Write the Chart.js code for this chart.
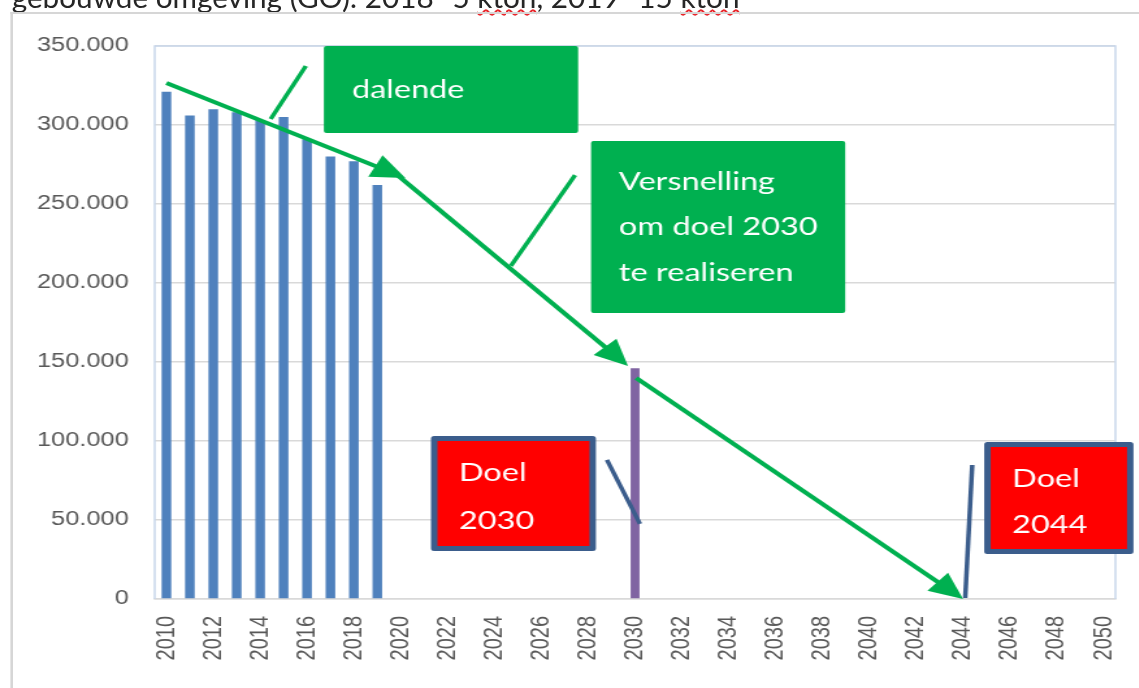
<!DOCTYPE html>
<html>
<head>
<meta charset="utf-8">
<title>CO2 gebouwde omgeving</title>
<script src="https://cdn.jsdelivr.net/npm/chart.js@4.4.1/dist/chart.umd.min.js"></script>
<style>
  html, body { margin: 0; padding: 0; background: #fff; overflow: hidden; }
  /* the original screenshot is stretched sideways, so the whole stage is too */
  #stage { position: absolute; left: 0; top: 0; width: 876px; height: 688px; transform-origin: 0 0; transform: scaleX(1.3); }
  #intro { position: absolute; left: 9px; top: -20px; white-space: nowrap; font-family: Lato, sans-serif; font-size: 28px; color: #262626; transform-origin: 0 0; }
  .sq { text-decoration: underline wavy #e8262b; text-decoration-thickness: 1.5px; text-underline-offset: 1px; }
  #frame { position: absolute; left: 8px; top: 12px; width: 900px; height: 700px; border-top: 2px solid #d6d6d6; border-left: 2px solid #d6d6d6; }
  #box { position: absolute; left: 0; top: 0; width: 876px; height: 688px; }
</style>
</head>
<body>
<div id="stage">
  <div id="intro">gebouwde omgeving (GO): 2018 -5 <span class="sq">kton</span>, 2019 -15 <span class="sq">kton</span></div>
  <div id="frame"></div>
  <div id="box"><canvas id="chart"></canvas></div>
</div>
<script>
// categories on the x axis
const years = ["2010", "2011", "2012", "2013", "2014", "2015", "2016", "2017", "2018", "2019",
  "2020", "2021", "2022", "2023", "2024", "2025", "2026", "2027", "2028", "2029",
  "2030", "2031", "2032", "2033", "2034", "2035", "2036", "2037", "2038", "2039",
  "2040", "2041", "2042", "2043", "2044", "2045", "2046", "2047", "2048", "2049", "2050"];

// measured emissions (ton)
const emissionYears = ["2010", "2011", "2012", "2013", "2014", "2015", "2016", "2017", "2018", "2019"];
const emissionValues = [321000, 306000, 310000, 308000, 303000, 305000, 291000, 280000, 277000, 262000];

// target for 2030
const goalYears = ["2030"];
const goalValues = [146000];

// y tick values
const yTicks = [0, 50000, 100000, 150000, 200000, 250000, 300000, 350000];

// the green trend arrows (year, value)
const trendFromYear = [2010, 2019.6, 2030.05];
const trendFromValue = [326600, 271500, 139900];
const trendToYear = [2020.2, 2029.7, 2044];
const trendToValue = [266500, 147500, 0];

const GREEN = "#00B050";
const NAVY = "#3B5D8C";

// text boxes, placed in chart units
const notes = [
  { x0: 2016.72, x1: 2027.57, y0: 350000, y1: 294900, fill: GREEN, lines: ["dalende"], gap: 45, shift: 0 },
  { x0: 2028.12, x1: 2038.97, y0: 289900, y1: 181000, fill: GREEN, lines: ["Versnelling", "om doel 2030", "te realiseren"], gap: 45.5, shift: 0 },
  { x0: 2021.29, x1: 2028.33, y0: 103200, y1: 30400, fill: "#FF0000", border: NAVY, lines: ["Doel", "2030"], gap: 48, shift: 3 },
  { x0: 2044.9, x1: 2051.27, y0: 99400, y1: 28500, fill: "#FF0000", border: NAVY, lines: ["Doel", "2044"], gap: 46, shift: 4 },
];

// little connector strokes from the boxes
const callouts = [
  { from: [2015.95, 337300], to: [2014.45, 303800], color: GREEN },
  { from: [2027.44, 268300], to: [2024.7, 210800], color: GREEN },
  { from: [2028.8, 88000], to: [2030.21, 47500], color: NAVY },
  { from: [2044.39, 84800], to: [2044.09, 600], color: NAVY },
];

const fmt = (v) => String(v).replace(/\B(?=(\d{3})+(?!\d))/g, ".");

function drawArrow(ctx, x1, y1, x2, y2, color) {
  const a = Math.atan2(y2 - y1, x2 - x1);
  const len = 26, half = 12;
  const bx = x2 - len * Math.cos(a);
  const by = y2 - len * Math.sin(a);
  ctx.strokeStyle = color;
  ctx.lineWidth = 4;
  ctx.beginPath();
  ctx.moveTo(x1, y1);
  ctx.lineTo(bx + 2 * Math.cos(a), by + 2 * Math.sin(a));
  ctx.stroke();
  ctx.fillStyle = color;
  ctx.beginPath();
  ctx.moveTo(x2, y2);
  ctx.lineTo(bx + half * Math.sin(a), by - half * Math.cos(a));
  ctx.lineTo(bx - half * Math.sin(a), by + half * Math.cos(a));
  ctx.closePath();
  ctx.fill();
}

const overlay = {
  id: "overlay",
  beforeDatasetsDraw(chart) {
    const { ctx, chartArea: a } = chart;
    ctx.save();
    ctx.strokeStyle = "#C9D7EC";
    ctx.lineWidth = 1.5;
    ctx.beginPath();
    ctx.moveTo(a.left, a.bottom);
    ctx.lineTo(a.left, a.top);
    ctx.lineTo(a.right, a.top);
    ctx.lineTo(a.right, a.bottom);
    ctx.stroke();
    ctx.restore();
  },
  afterDatasetsDraw(chart) {
    const { ctx } = chart;
    const xs = chart.scales.x, ys = chart.scales.y;
    const px = (yr) => xs.getPixelForValue(yr - 2010);
    const py = (v) => ys.getPixelForValue(v);
    ctx.save();
    ctx.lineCap = "butt";

    trendFromYear.forEach((yr, i) => {
      drawArrow(ctx, px(yr), py(trendFromValue[i]), px(trendToYear[i]), py(trendToValue[i]), GREEN);
    });

    ctx.lineWidth = 3.5;
    callouts.forEach((c) => {
      ctx.strokeStyle = c.color;
      ctx.beginPath();
      ctx.moveTo(px(c.from[0]), py(c.from[1]));
      ctx.lineTo(px(c.to[0]), py(c.to[1]));
      ctx.stroke();
    });

    notes.forEach((n) => {
      const l = px(n.x0), r = px(n.x1), t = py(n.y0), b = py(n.y1);
      if (n.border) {
        // outline box: fill inside, then a thick frame on top
        ctx.fillStyle = n.fill;
        ctx.fillRect(l + 2, t + 2, r - l - 4, b - t - 4);
        ctx.strokeStyle = n.border;
        ctx.lineWidth = 5;
        ctx.lineJoin = "round";
        ctx.strokeRect(l + 2.5, t + 2.5, r - l - 5, b - t - 5);
      } else {
        ctx.fillStyle = n.fill;
        ctx.beginPath();
        ctx.roundRect(l, t, r - l, b - t, 2);
        ctx.fill();
      }
      ctx.fillStyle = "#fff";
      ctx.font = "25px Lato";
      ctx.textBaseline = "middle";
      ctx.textAlign = "left";
      const mid = (t + b) / 2 + n.shift;
      n.lines.forEach((txt, k) => {
        const y = mid + (k - (n.lines.length - 1) / 2) * n.gap;
        ctx.fillText(txt, l + 21.5, y);
      });
    });
    ctx.restore();
  },
};

new Chart(document.getElementById("chart"), {
  type: "bar",
  data: {
    labels: years,
    datasets: [
      {
        label: "Emissie",
        data: emissionYears.map((y, i) => ({ x: y, y: emissionValues[i] })),
        backgroundColor: "#4F81BD",
        grouped: false,
        barPercentage: 0.41,
        categoryPercentage: 1,
      },
      {
        label: "Doel 2030",
        data: goalYears.map((y, i) => ({ x: y, y: goalValues[i] })),
        backgroundColor: "#8064A2",
        grouped: false,
        barPercentage: 0.38,
        categoryPercentage: 1,
      },
    ],
  },
  options: {
    responsive: true,
    maintainAspectRatio: false,
    animation: false,
    layout: { padding: { top: 46, right: 18, left: 0, bottom: 0 } },
    plugins: {
      legend: { display: false },
      tooltip: { enabled: false },
    },
    scales: {
      x: {
        offset: true,
        grid: { display: false, drawTicks: false },
        border: { color: "#D9D9D9", width: 1.5 },
        ticks: {
          autoSkip: false,
          minRotation: 90,
          maxRotation: 90,
          padding: 17,
          color: "#595959",
          font: { family: "Liberation Sans", size: 20 },
          callback: (v, i) => (i % 2 === 0 ? years[i] : ""),
        },
        afterFit: (s) => {
          s.height = 89;
          s.paddingLeft = 0;
          s.paddingRight = 0;
        },
      },
      y: {
        min: 0,
        max: 350000,
        afterBuildTicks: (s) => { s.ticks = yTicks.map((v) => ({ value: v })); },
        grid: { color: "#D9D9D9", lineWidth: 1.5, drawTicks: false },
        border: { display: false },
        ticks: {
          padding: 20,
          color: "#595959",
          font: { family: "Liberation Sans", size: 19.5 },
          callback: (v) => fmt(v),
        },
        afterFit: (s) => {
          s.width = 119;
          s.paddingTop = 0;
          s.paddingBottom = 0;
        },
      },
    },
  },
  plugins: [overlay],
});

// squeeze the intro line to the width it has in the picture
const intro = document.getElementById("intro");
intro.style.transform = "scaleX(" + (560 / intro.scrollWidth) + ")";
</script>
</body>
</html>
